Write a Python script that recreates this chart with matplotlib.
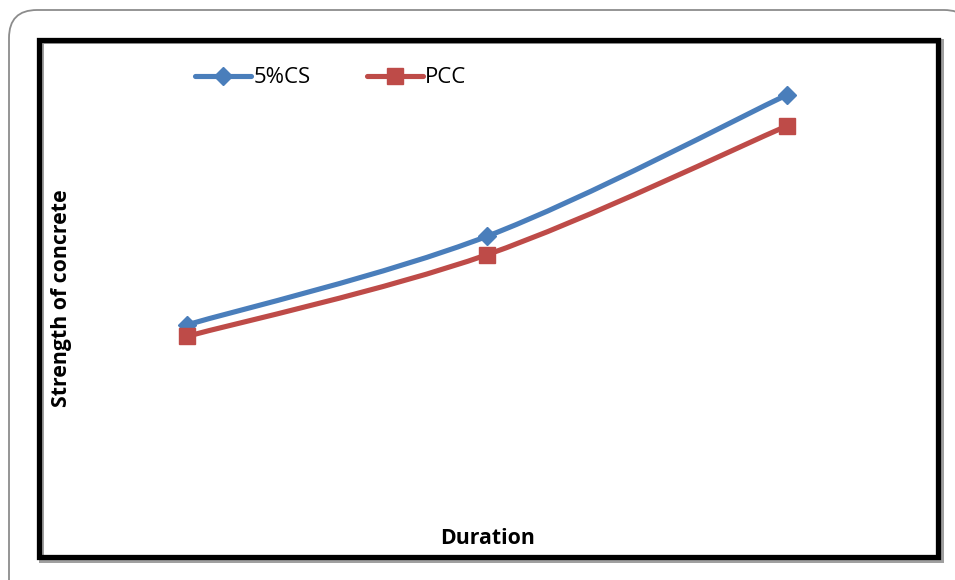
import matplotlib
matplotlib.use("Agg")
import matplotlib.pyplot as plt
from matplotlib.patches import Rectangle, PathPatch
from matplotlib.path import Path
from matplotlib.lines import Line2D
import numpy as np

categories = ["Period 1", "Period 2", "Period 3"]
cs5_values = [16.1, 23.8, 36.1]
pcc_values = [15.1, 22.2, 33.4]
series_names = ["5%CS", "PCC"]

W, H = 955, 580
fig = plt.figure(figsize=(W / 100, H / 100), dpi=100)

def fx(px):
    return px / W

def fy(py):
    return 1 - py / H

# overlay in pixel coordinates for frames
bg = fig.add_axes([0, 0, 1, 1], zorder=0)
bg.set_xlim(0, W)
bg.set_ylim(H, 0)
bg.axis("off")
L, T, R, B, r = 9, 10, 972, 640, 28
outer_path = Path([(L, B), (L, T + r), (L, T), (L + r, T), (R - r, T), (R, T), (R, T + r), (R, B)],
                  [Path.MOVETO, Path.LINETO, Path.CURVE3, Path.CURVE3, Path.LINETO,
                   Path.CURVE3, Path.CURVE3, Path.LINETO])
bg.add_patch(PathPatch(outer_path, fill=False, edgecolor="#8c8c8c", linewidth=1.3))
bg.add_patch(Rectangle((41, 41), 900, 519, fill=False, edgecolor="#a0a0a0", linewidth=3.6))
bg.add_patch(Rectangle((38.5, 39.5), 899.5, 517.5, fill=False, edgecolor="black", linewidth=3.8))

ax = fig.add_axes([fx(37), fy(510), fx(937) - fx(37), fy(50) - fy(510)], zorder=1)
ax.set_xlim(0, 3)
ax.set_ylim(0, 40)
ax.axis("off")

x = np.arange(len(categories)) + 0.5

def smooth_path(xs, ys, t=1/6):
    pts = np.column_stack([xs, ys])
    verts = [pts[0]]
    codes = [Path.MOVETO]
    n = len(pts)
    for i in range(n - 1):
        p0 = pts[i - 1] if i > 0 else pts[i]
        p1 = pts[i]
        p2 = pts[i + 1]
        p3 = pts[i + 2] if i + 2 < n else pts[i + 1]
        c1 = p1 + (p2 - p0) * t
        c2 = p2 - (p3 - p1) * t
        verts += [c1, c2, p2]
        codes += [Path.CURVE4] * 3
    return Path(verts, codes)

blue = "#4a7ebb"
red = "#be4b48"
lw = 3.7
for vals, color, marker, ms in [(cs5_values, blue, "D", 9), (pcc_values, red, "s", 11)]:
    p = smooth_path(x, np.array(vals))
    ax.add_patch(PathPatch(p, fill=False, edgecolor=color, linewidth=lw,
                           capstyle="round", joinstyle="round", zorder=2))
    ax.plot(x, vals, linestyle="none", marker=marker, markersize=ms,
            color=color, markeredgecolor=color, zorder=3, clip_on=False)

lfs = 16
fs = 15.3
handles = [Line2D([], [], color=blue, linewidth=lw, marker="D", markersize=9, solid_capstyle="round"),
           Line2D([], [], color=red, linewidth=lw, marker="s", markersize=11, solid_capstyle="round")]
fig.legend(handles, series_names, loc="center left", bbox_to_anchor=(fx(195), fy(78)),
           ncol=2, frameon=False, borderpad=0, borderaxespad=0,
           handlelength=2.5, handletextpad=0.12, columnspacing=2.55,
           prop={"family": "Open Sans", "size": lfs})

fig.text(fx(488), fy(539), "Duration", ha="center", va="center",
         fontsize=fs, fontweight="bold", family="Open Sans")
fig.text(fx(61), fy(298), "Strength of concrete", ha="center", va="center", rotation=90,
         fontsize=fs, fontweight="bold", family="Open Sans")

fig.savefig("out.png", dpi=100)
